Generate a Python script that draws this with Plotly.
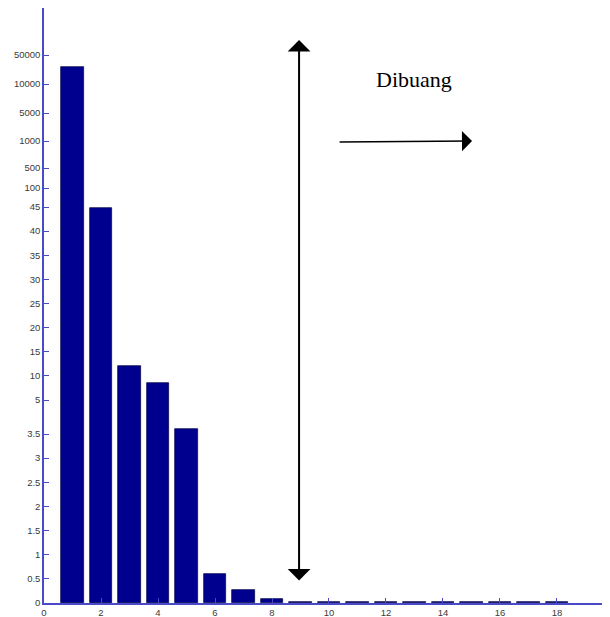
import numpy as np
import plotly.graph_objects as go

# data
bins = [1, 2, 3, 4, 5, 6, 7, 8, 9, 10, 11, 12, 13, 14, 15, 16, 17, 18]
counts = [33000, 44.8, 12, 8.6, 3.7, 0.6, 0.27, 0.08,
          0.02, 0.02, 0.02, 0.02, 0.02, 0.02, 0.02, 0.02, 0.02, 0.02]
x_ticks = [0, 2, 4, 6, 8, 10, 12, 14, 16, 18]
y_ticks = [0, 0.5, 1, 1.5, 2, 2.5, 3, 3.5, 5, 10, 15, 20, 25, 30, 35, 40, 45,
           100, 500, 1000, 5000, 10000, 50000]

# piecewise (broken) y scale: value -> axis position
break_vals = [0, 3.5, 5, 45, 100, 500, 1000, 5000, 10000, 50000]
break_pos = [0, 169, 203, 396, 415, 435, 462, 490, 519, 548]


def ymap(v):
    return np.interp(v, break_vals, break_pos)


fig = go.Figure()
fig.add_trace(go.Bar(
    x=bins, y=ymap(np.array(counts)), width=0.8,
    marker=dict(color="#00008f", line=dict(color="#000040", width=0.7)),
    hoverinfo="skip",
))

axcol = "#4a4ac8"
# page body has an 8px default margin, so the figure is sized to fit the window
fig.update_layout(
    width=602, height=609,
    margin=dict(l=36, r=0, t=0, b=14, pad=0),
    paper_bgcolor="white", plot_bgcolor="white",
    showlegend=False,
    bargap=0,
    xaxis=dict(range=[0, 19.86], tickvals=x_ticks, ticktext=[str(t) for t in x_ticks],
               ticks="inside", ticklen=5, tickcolor=axcol, showgrid=False,
               zeroline=False, showline=True, linecolor=axcol, linewidth=2,
               automargin=False,
               tickfont=dict(family="Liberation Sans, Arial", size=9.5, color="#3a3a3a"),
               fixedrange=True),
    yaxis=dict(range=[0, 595], tickvals=list(ymap(np.array(y_ticks))),
               ticktext=[str(t) for t in y_ticks],
               ticks="inside", ticklen=5, tickcolor=axcol, showgrid=False,
               zeroline=False, showline=True, linecolor=axcol, linewidth=1.5,
               automargin=False,
               tickfont=dict(family="Liberation Sans, Arial", size=9.5, color="#3a3a3a"),
               fixedrange=True),
)

# double-headed vertical arrow
fig.add_annotation(x=8.95, y=563, ax=8.95, ay=21, xref="x", yref="y",
                   axref="x", ayref="y", showarrow=True, arrowhead=1,
                   startarrowhead=1, arrowside="end+start", arrowwidth=2,
                   arrowsize=1.9, startarrowsize=1.9, arrowcolor="black", text="")
# horizontal arrow
fig.add_annotation(x=15.02, y=462, ax=10.32, ay=461, xref="x", yref="y",
                   axref="x", ayref="y", showarrow=True, arrowhead=1,
                   arrowwidth=1.6, arrowsize=2.1, arrowcolor="black", text="")
fig.add_annotation(x=12.98, y=524, xref="x", yref="y", showarrow=False,
                   text="Dibuang",
                   font=dict(family="Liberation Serif, Times New Roman", size=22,
                             color="black"))

fig.write_html("out.html")
